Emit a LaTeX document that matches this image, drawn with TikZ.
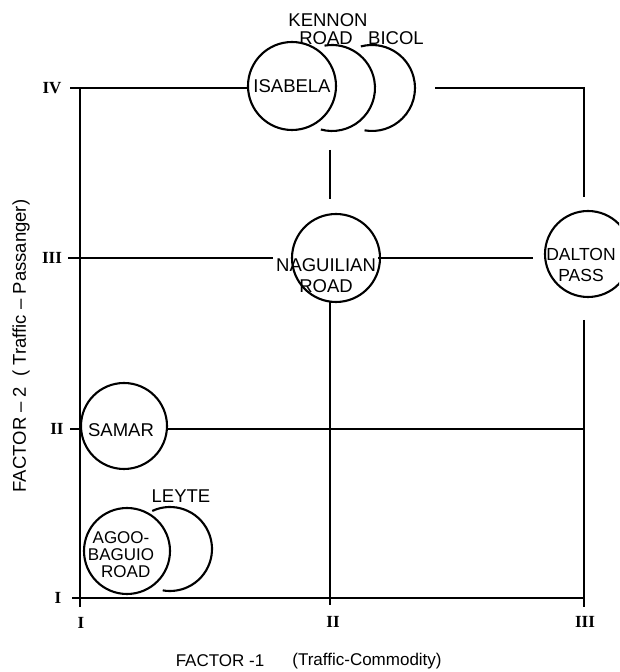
\documentclass[tikz,border=0pt]{standalone}
\usepackage{fontspec}
\setmainfont{Liberation Sans}
\newfontfamily\numfont{Liberation Serif}
\begin{document}
\begin{tikzpicture}[x=1pt,y=1pt,
  gridline/.style={line width=1.4pt},
  ring/.style={circle, draw, line width=2.1pt, minimum size=#1, inner sep=0pt},
  arcline/.style={line width=2.1pt},
  inlabel/.style={font=\fontsize{18.5}{20}\selectfont, align=center, inner sep=0pt},
  smalllabel/.style={font=\fontsize{17}{17}\selectfont, align=center, inner sep=0pt},
  numeral/.style={font=\numfont\bfseries\fontsize{17}{17}\selectfont, inner sep=0pt},
  axistitle/.style={font=\fontsize{17}{18}\selectfont, inner sep=0pt}]

\clip (0,0) rectangle (619,672);
\fill[white] (0,0) rectangle (619,672);

% tick labels, factor 2 (left) and factor 1 (bottom)
\node[numeral] (yIV)  at (52,584) {IV};
\node[numeral] (yIII) at (52,414) {III};
\node[numeral] (yII)  at (57,243) {II};
\node[numeral] (yI)   at (58,74)  {I};
\node[numeral] (xI)   at (81,49)  {I};
\node[numeral] (xII)  at (333,50) {II};
\node[numeral] (xIII) at (585,50) {III};

% axis titles
\node[axistitle] (xtitleA) at (220,11) {FACTOR -1};
\node[axistitle] (xtitleB) at (367,11) {(Traffic-Commodity)};
\node[axistitle, font=\fontsize{18.5}{19}\selectfont, rotate=90] (ytitle) at (21,326) {FACTOR -- 2\ \ ( Traffic -- Passanger)};

% circles
\node[ring=88pt, inlabel] (isabela) at (292,586) {ISABELA};
\node[ring=88pt] (naguilian) at (336,414) {};
\node[inlabel] (nagtext) at (326,396) {NAGUILIAN\\[1pt]ROAD};
\node[ring=86pt] (dalton) at (588,418) {};
\node[inlabel, font=\fontsize{17.5}{20}\selectfont] (daltontext) at (581,407) {DALTON\\[1pt]PASS};
\node[ring=86pt] (samar) at (124,246) {};
\node[inlabel] (samartext) at (121,242) {SAMAR};
\node[ring=86pt] (agoo) at (127,121) {};
\node[smalllabel] (agootext) at (121,117) {AGOO-\\BAGUIO\\\ \ ROAD};

% crescents partly hidden behind the circles
\coordinate (kennonc) at (332,584);
\coordinate (bicolc) at (372,584);
\coordinate (leytec) at (170,123);
\draw[arcline] ([shift={(100:43)}]kennonc) arc[start angle=100, end angle=-105, radius=43];
\draw[arcline] ([shift={(105:43)}]bicolc) arc[start angle=105, end angle=-100, radius=43];
\draw[arcline] ([shift={(115:42)}]leytec) arc[start angle=115, end angle=-100, radius=42];
\node[inlabel] (kennontext) at (328,652) {KENNON};
\node[inlabel] (kroadtext) at (326,634) {ROAD};
\node[inlabel] (bicoltext) at (396,634) {BICOL};
\node[inlabel] (leytetext) at (181,176) {LEYTE};

% grid coordinates
\coordinate (a4) at (70,584);
\coordinate (a3) at (68,414);
\coordinate (a2) at (70,243);
\coordinate (a1) at (72,74);
\coordinate (axtop) at (80,584);
\coordinate (axbot) at (80,65);
\coordinate (ax2) at (80,243);
\coordinate (r4a) at (435,584);
\coordinate (r4b) at (584,584);
\coordinate (r4c) at (584,475);
\coordinate (l3a) at (273,414);
\coordinate (l3b) at (378,414);
\coordinate (l3c) at (533,414);
\coordinate (l2a) at (168,243);
\coordinate (l2b) at (584,243);
\coordinate (l1b) at (584,74);
\coordinate (m2a) at (330,522);
\coordinate (m2b) at (330,473);
\coordinate (m2c) at (330,370);
\coordinate (m2d) at (330,67);
\coordinate (m3a) at (584,352);
\coordinate (m3b) at (584,65);

% grid lines
\draw[gridline, line width=1.8pt] (axtop) -- (axbot);
\draw[gridline] (a4) -- (isabela.west |- a4);
\draw[gridline] (r4a) -- (r4b) -- (r4c);
\draw[gridline] (a3) -- (l3a);
\draw[gridline] (l3b) -- (l3c);
\draw[gridline] (a2) -- (ax2);
\draw[gridline] (l2a) -- (l2b);
\draw[gridline] (a1) -- (l1b);
\draw[gridline] (m2a) -- (m2b);
\draw[gridline] (m2c) -- (m2d);
\draw[gridline] (m3a) -- (m3b);
\end{tikzpicture}
\end{document}
